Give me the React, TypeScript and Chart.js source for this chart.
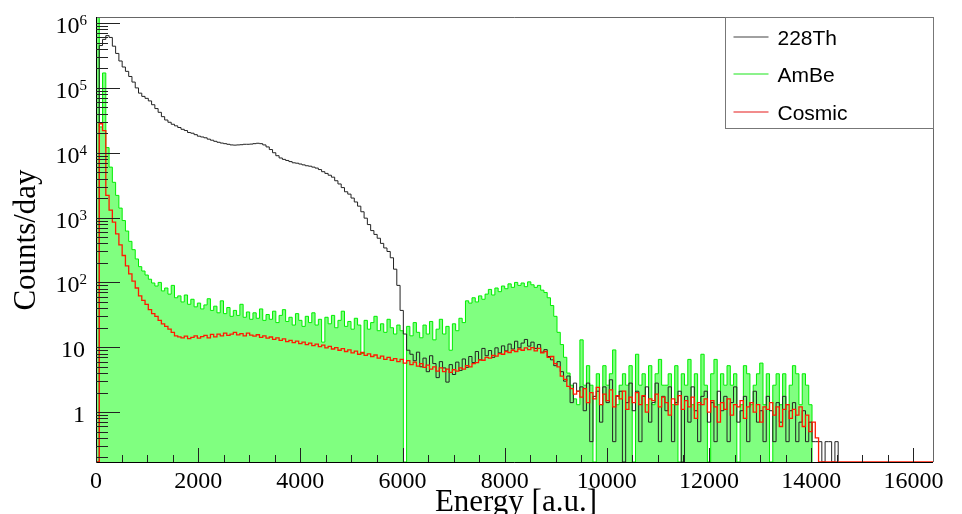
import React, { useEffect, useRef } from 'react';
import { Chart, registerables } from 'chart.js';

Chart.register(...registerables);

// ---------- data (bin width 64 a.u., bin i starts at i*64) ----------
const BIN_WIDTH = 64;
const X_MAX = 16384;
const X_MINOR_STEP = 500;
const Y_MIN = 0.17;
const Y_MAX = 1.24e6;
const xTickValues = [0, 2000, 4000, 6000, 8000, 10000, 12000, 14000, 16000];
const yTickExponents = [0, 1, 2, 3, 4, 5, 6];
const seriesNames = ['228Th', 'AmBe', 'Cosmic'];

const th228 = [
  0, 4.5e5, 5.6e5, 6.4e5, 6.0e5, 4.4e5, 3.4e5, 2.6e5, 2.1e5, 1.8e5,
  1.5e5, 1.23e5, 1.0e5, 8.3e4, 7.4e4, 6.9e4, 6.3e4, 5.5e4, 4.8e4, 4.2e4,
  3.6e4, 3.2e4, 2.95e4, 2.75e4, 2.6e4, 2.45e4, 2.3e4, 2.2e4, 2.05e4, 2.0e4,
  1.9e4, 1.8e4, 1.75e4, 1.7e4, 1.62e4, 1.56e4, 1.5e4, 1.45e4, 1.41e4, 1.38e4,
  1.35e4, 1.32e4, 1.31e4, 1.32e4, 1.33e4, 1.35e4, 1.35e4, 1.36e4, 1.38e4, 1.4e4,
  1.38e4, 1.32e4, 1.23e4, 1.12e4, 1.0e4, 9.0e3, 8.3e3, 7.9e3, 7.6e3, 7.3e3,
  7.0e3, 6.9e3, 6.7e3, 6.5e3, 6.3e3, 6.2e3, 6.0e3, 5.8e3, 5.5e3, 5.1e3,
  4.8e3, 4.5e3, 4.2e3, 3.7e3, 3.3e3, 2.9e3, 2.5e3, 2.3e3, 2.0e3, 1.74e3,
  1.5e3, 1.23e3, 980, 780, 630, 550, 480, 400, 340, 300,
  240, 160, 90, 37, 16, 9, 7.8, 6.2, 8.4, 5.0,
  6.8, 4.2, 7.4, 5.6, 3.4, 6.0, 4.8, 2.9, 5.4, 3.8,
  5.9, 4.4, 6.6, 4.9, 7.2, 5.8, 8.6, 6.4, 9.6, 7.4,
  8.9, 7.0, 9.8, 8.2, 10.5, 8.8, 11.2, 9.4, 12.4, 9.8,
  11.6, 13.2, 10.4, 12.0, 9.6, 11.0, 8.4, 9.2, 7.2, 6.4,
  5.2, 6.0, 4.2, 3.0, 3.6, 1.4, 2.8, 2.1, 2.45, 1.05,
  2.8, 0.35, 1.75, 2.1, 0.7, 2.45, 1.4, 3.15, 0.35, 1.75,
  2.1, 0, 1.4, 2.8, 1.05, 2.1, 0.35, 1.75, 2.45, 0.7,
  1.4, 2.8, 0.35, 1.75, 1.05, 2.45, 0.35, 1.4, 2.1, 0,
  1.75, 0.7, 2.45, 1.05, 0.35, 1.75, 2.1, 0.7, 1.4, 0.35,
  2.1, 1.05, 1.75, 0.35, 1.4, 2.45, 0.7, 1.05, 1.75, 0.35,
  1.4, 2.1, 0.7, 1.05, 0.35, 1.75, 1.05, 0.35, 1.4, 0.7,
  1.75, 0.35, 1.05, 1.4, 0.35, 0.7, 1.05, 0.35, 0.7, 0.35,
  0.35, 0.35, 0, 0.35, 0.35, 0, 0.35,
];

const ambe = [
  2e6, 2.5e4, 1.7e5, 1.2e4, 6e3, 3.5e3, 2.2e3, 1.4e3, 900, 620,
  430, 320, 230, 175, 150, 130, 112, 98, 88, 100,
  74, 82, 66, 90, 58, 62, 50, 64, 46, 55,
  42, 48, 39, 45, 56, 37, 43, 34, 52, 33,
  41, 30, 37, 31, 46, 29, 35, 27, 34, 28,
  39, 26, 32, 27, 36, 24, 31, 38, 25, 29,
  22, 33, 26, 21, 30, 24, 34, 22, 27, 12,
  29, 23, 31, 20, 26, 36, 21, 25, 19, 28,
  22, 8, 26, 19, 24, 30, 18, 23, 17, 27,
  20, 16, 22, 18, 0, 21, 15, 24, 17, 14,
  22, 16, 25, 13, 19, 27, 16, 21, 9, 23,
  18, 28, 24, 52, 48, 58, 50, 62, 55, 66,
  78, 64, 82, 72, 88, 80, 95, 84, 100, 90,
  98, 86, 102, 92, 84, 90, 76, 70, 58, 44,
  30, 17, 11, 7, 4, 2.6, 1.6, 1.3, 13, 2.6,
  5.2, 2.6, 0, 3.9, 1.3, 5.2, 2.6, 3.9, 9.1, 1.3,
  2.6, 3.9, 2.6, 5.2, 0, 7.8, 2.6, 3.9, 1.3, 5.2,
  1.3, 3.9, 6.5, 2.6, 2.6, 3.9, 1.3, 5.2, 0, 3.9,
  2.6, 6.5, 1.3, 3.9, 1.3, 7.8, 2.6, 0, 3.9, 6.5,
  1.3, 3.9, 2.6, 5.2, 2.6, 3.9, 0, 1.3, 5.2, 3.9,
  1.3, 2.6, 3.9, 5.7, 1.3, 3.9, 0, 2.6, 3.9, 1.3,
  3.9, 1.3, 2.6, 5.2, 3.9, 1.3, 3.9, 2.6, 1.3,
];

const cosmic = [
  0, 2.8e4, 2.2e4, 2.2e3, 1.3e3, 850, 560, 380, 260, 180,
  135, 105, 82, 62, 53, 46, 38, 33, 30, 26,
  23, 21, 19, 17, 15, 14.5, 14, 14.8, 13.6, 14.2,
  15, 13.8, 14.6, 15.2, 14, 15.8, 14.5, 16, 15, 16.5,
  15.2, 16, 17, 15.5, 16.2, 15, 16.5, 15.4, 14.8, 15.6,
  14.2, 15, 13.8, 14.4, 13.2, 14, 12.8, 13.5, 12.2, 12.8,
  11.8, 12.4, 11.4, 12, 11, 11.6, 10.6, 11.2, 10.2, 10.8,
  9.8, 10.3, 9.4, 9.9, 9.0, 9.5, 8.6, 9.1, 8.2, 8.7,
  7.8, 8.3, 7.5, 7.9, 7.2, 7.6, 6.8, 7.3, 6.5, 7.0,
  6.3, 6.7, 6.0, 6.5, 5.7, 6.2, 5.4, 5.9, 5.1, 5.6,
  4.9, 5.3, 4.6, 5.0, 4.3, 4.8, 4.2, 4.6, 4.1, 4.5,
  4.3, 4.8, 4.6, 5.2, 5.0, 5.6, 5.8, 6.4, 6.3, 7.0,
  6.8, 7.5, 7.3, 8.0, 7.8, 8.6, 8.3, 9.0, 8.6, 9.4,
  9.0, 9.8, 9.2, 9.9, 8.8, 9.6, 8.2, 8.6, 7.0, 7.2,
  5.6, 5.0, 3.6, 3.2, 2.5, 2.3, 1.9, 2.1, 1.7, 2.3,
  1.4, 2.0, 1.6, 2.4, 1.3, 1.9, 1.5, 2.2, 1.2, 1.8,
  1.6, 2.1, 1.1, 1.7, 1.4, 2.0, 1.3, 1.8, 1.0, 1.6,
  1.5, 1.9, 1.2, 1.7, 1.4, 0.9, 1.6, 1.3, 1.8, 1.1,
  1.5, 1.2, 1.7, 0.8, 1.4, 1.3, 1.6, 1.0, 1.5, 1.2,
  0.7, 1.4, 1.1, 1.6, 0.9, 1.3, 1.2, 1.5, 0.8, 1.2,
  1.4, 1.0, 1.3, 0.7, 1.2, 1.1, 1.4, 0.9, 1.2, 0.6,
  1.1, 1.3, 0.8, 1.1, 0.9, 1.2, 0.6, 0.9, 0.5, 0.7,
  0.4,
];

const seriesColors = ['#222222', '#00ee00', '#ff1a00'];
const ambeFill = '#80ff80';
const legendColors = ['#808080', '#66ee66', '#ee6666'];

// ---------- helpers ----------
function histPoints(values: number[], extendTo?: number) {
  const pts = values.map((v, i) => ({ x: i * BIN_WIDTH, y: v > 0 ? v : Y_MIN }));
  pts.push({ x: values.length * BIN_WIDTH, y: Y_MIN });
  if (extendTo) pts.push({ x: extendTo, y: Y_MIN });
  return pts;
}

const SERIF = '"Liberation Serif", "Times New Roman", serif';
const SANS = '"Liberation Sans", Arial, sans-serif';

const decorPlugin = {
  id: 'rootDecor',
  afterDatasetsDraw(chart: any) {
    const { ctx, chartArea: a, scales } = chart;
    const xs = scales.x;
    const ys = scales.y;
    ctx.save();
    ctx.lineWidth = 1;
    ctx.strokeStyle = '#666666';
    ctx.beginPath();
    ctx.moveTo(a.left, Math.round(a.top) + 0.5);
    ctx.lineTo(Math.round(a.right) + 0.5, Math.round(a.top) + 0.5);
    ctx.lineTo(Math.round(a.right) + 0.5, a.bottom);
    ctx.stroke();
    ctx.strokeStyle = '#000000';
    ctx.beginPath();
    ctx.moveTo(Math.round(a.left) + 0.5, a.top);
    ctx.lineTo(Math.round(a.left) + 0.5, Math.round(a.bottom) + 0.5);
    ctx.lineTo(a.right, Math.round(a.bottom) + 0.5);
    ctx.stroke();
    ctx.strokeStyle = '#222222';
    ctx.beginPath();
    for (let v = 0; v <= xs.max; v += X_MINOR_STEP) {
      const px = Math.round(xs.getPixelForValue(v)) + 0.5;
      const len = xTickValues.includes(v) ? 14 : 7;
      ctx.moveTo(px, a.bottom);
      ctx.lineTo(px, a.bottom - len);
    }
    ctx.stroke();
    ctx.beginPath();
    for (let e = -1; e <= 6; e++) {
      for (let m = 1; m <= 9; m++) {
        const v = m * Math.pow(10, e);
        if (v < ys.min || v > ys.max) continue;
        const py = Math.round(ys.getPixelForValue(v)) + 0.5;
        const len = m === 1 ? 24 : 12;
        ctx.moveTo(a.left, py);
        ctx.lineTo(a.left + len, py);
      }
    }
    ctx.stroke();
    ctx.restore();
  },
  afterDraw(chart: any) {
    const { ctx, chartArea: a, scales } = chart;
    const ys = scales.y;
    ctx.save();
    ctx.fillStyle = '#000000';
    yTickExponents.forEach((e) => {
      const py = ys.getPixelForValue(Math.pow(10, e));
      ctx.textBaseline = 'alphabetic';
      ctx.textAlign = 'right';
      if (e <= 1) {
        ctx.font = `24px ${SERIF}`;
        ctx.fillText(e === 0 ? '1' : '10', a.left - 11, py + 10);
      } else {
        ctx.font = `15px ${SERIF}`;
        const sup = String(e);
        const sw = ctx.measureText(sup).width;
        ctx.fillText(sup, a.left - 9, py + 2);
        ctx.font = `24px ${SERIF}`;
        ctx.fillText('10', a.left - 9 - sw, py + 10);
      }
    });
    ctx.font = `31px ${SERIF}`;
    ctx.textAlign = 'right';
    ctx.textBaseline = 'alphabetic';
    ctx.fillText('Energy [a.u.]', 597, 511);
    ctx.save();
    ctx.translate(35, 240);
    ctx.rotate(-Math.PI / 2);
    ctx.textAlign = 'center';
    ctx.fillText('Counts/day', 0, 0);
    ctx.restore();
    // legend
    const lw = 208;
    const lh = 111;
    const lx = Math.round(a.right) - lw + 0.5;
    const ly = Math.round(a.top) + 0.5;
    ctx.fillStyle = '#ffffff';
    ctx.fillRect(lx, ly, lw, lh);
    ctx.strokeStyle = '#777777';
    ctx.lineWidth = 1;
    ctx.strokeRect(lx, ly, lw, lh);
    const baselines = [45, 82, 120];
    seriesNames.forEach((name, i) => {
      const by = baselines[i];
      ctx.strokeStyle = legendColors[i];
      ctx.lineWidth = 1.5;
      ctx.beginPath();
      ctx.moveTo(lx + 8, by - 8);
      ctx.lineTo(lx + 43, by - 8);
      ctx.stroke();
      ctx.fillStyle = '#000000';
      ctx.font = `21px ${SANS}`;
      ctx.textAlign = 'left';
      ctx.fillText(name, lx + 52, by);
    });
    ctx.restore();
  },
};

export default function App() {
  const ref = useRef<HTMLCanvasElement | null>(null);

  useEffect(() => {
    if (!ref.current) return;
    const chart = new Chart(ref.current, {
      type: 'line',
      data: {
        datasets: [
          {
            label: seriesNames[0],
            data: histPoints(th228),
            borderColor: seriesColors[0],
            borderWidth: 1,
            stepped: 'before',
            pointRadius: 0,
            fill: false,
            order: 2,
          },
          {
            label: seriesNames[1],
            data: histPoints(ambe),
            borderColor: seriesColors[1],
            backgroundColor: ambeFill,
            borderWidth: 1,
            stepped: 'before',
            pointRadius: 0,
            fill: 'start',
            order: 3,
          },
          {
            label: seriesNames[2],
            data: histPoints(cosmic, X_MAX),
            borderColor: seriesColors[2],
            borderWidth: 1.3,
            stepped: 'before',
            pointRadius: 0,
            fill: false,
            order: 1,
          },
        ],
      },
      options: {
        responsive: false,
        animation: false,
        devicePixelRatio: 1,
        layout: { padding: { left: 0, top: 17, right: 29, bottom: 0 } },
        plugins: {
          legend: { display: false },
          tooltip: { enabled: false },
        },
        elements: { line: { tension: 0 } },
        scales: {
          x: {
            type: 'linear',
            min: 0,
            max: X_MAX,
            afterBuildTicks: (s: any) => {
              s.ticks = xTickValues.map((value) => ({ value }));
            },
            afterFit: (s: any) => {
              s.height = 52;
            },
            ticks: {
              autoSkip: false,
              maxRotation: 0,
              padding: 5,
              color: '#000000',
              font: { family: SERIF, size: 24 },
              callback: (v: any) => String(v),
            },
            grid: { display: false, drawTicks: false },
            border: { display: false },
          },
          y: {
            type: 'logarithmic',
            min: Y_MIN,
            max: Y_MAX,
            afterFit: (s: any) => {
              s.width = 96;
            },
            ticks: { display: false },
            grid: { display: false, drawTicks: false },
            border: { display: false },
          },
        },
      },
      plugins: [decorPlugin],
    } as any);
    return () => chart.destroy();
  }, []);

  return (
    <div style={{ position: 'fixed', left: 0, top: 0, width: 962, height: 514, background: '#ffffff' }}>
      <canvas ref={ref} width={962} height={514} style={{ display: 'block' }} />
    </div>
  );
}
